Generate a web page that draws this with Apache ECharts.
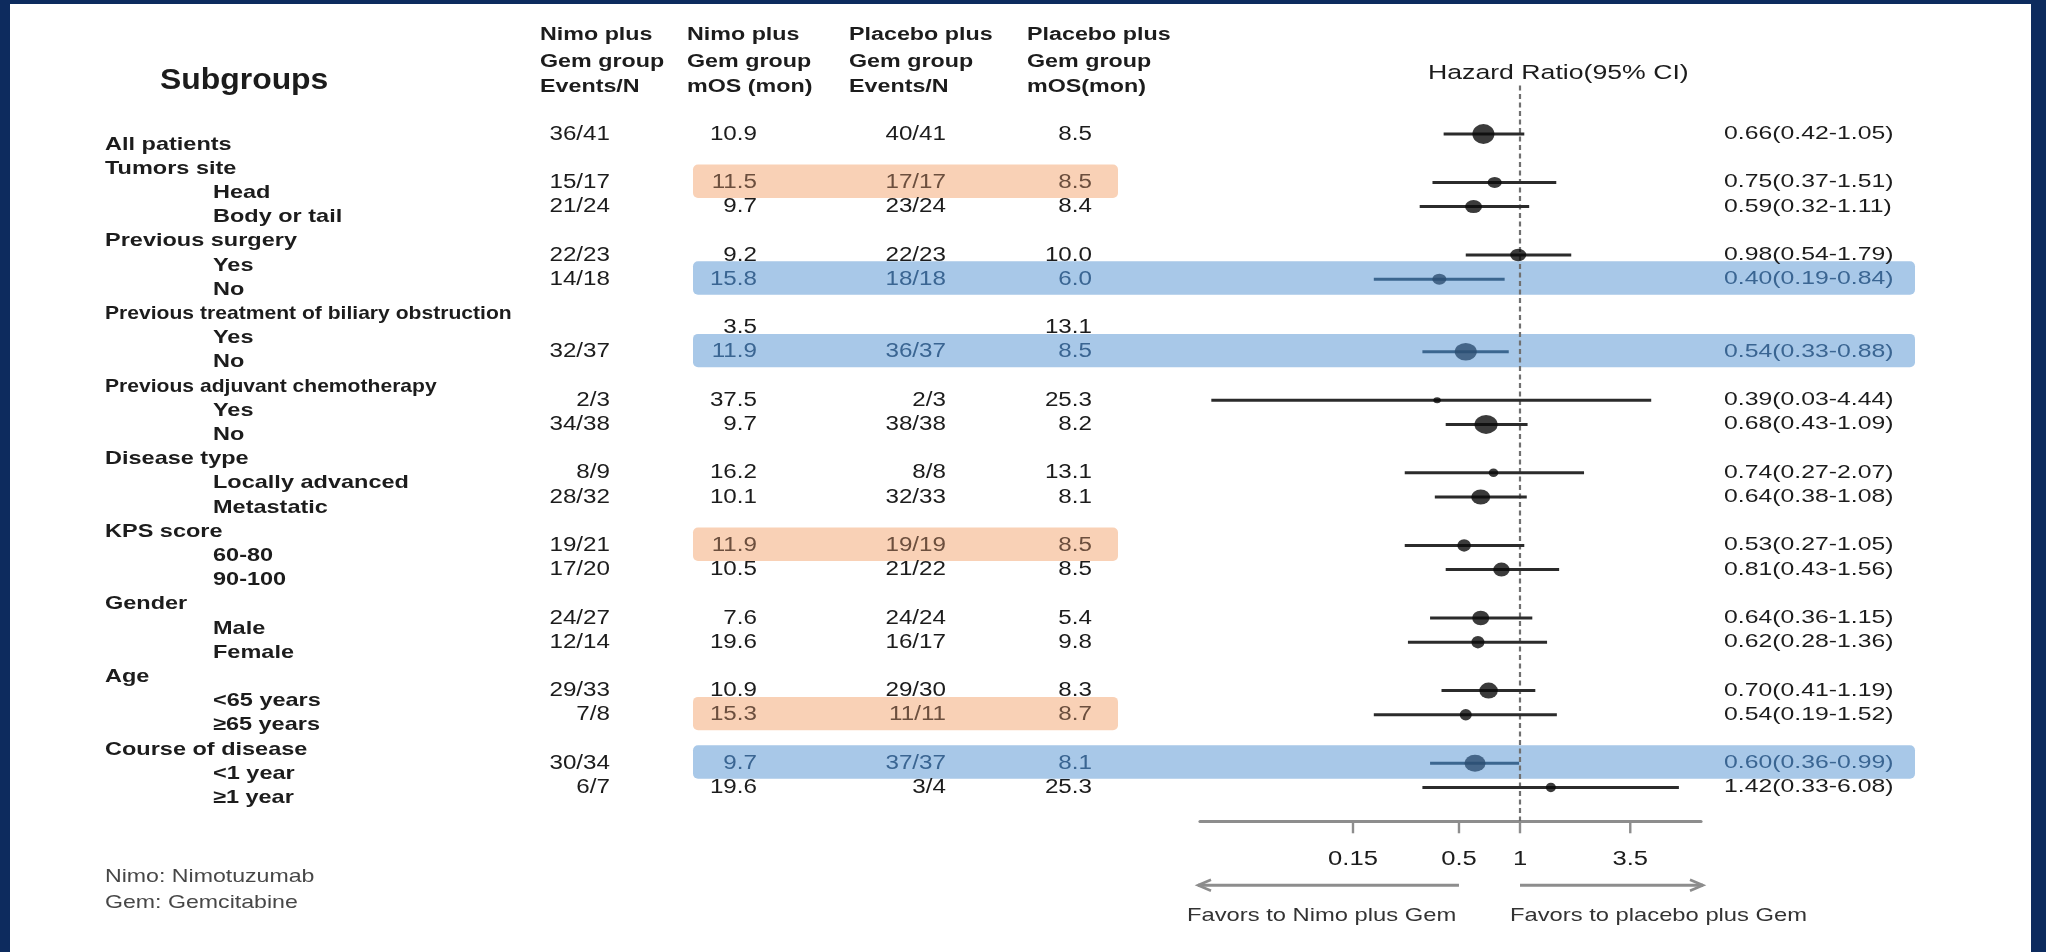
<!DOCTYPE html>
<html>
<head>
<meta charset="utf-8">
<script src="https://cdn.jsdelivr.net/npm/echarts@6/dist/echarts.min.js"></script>
<style>
html,body{margin:0;padding:0;background:#ffffff;}
#chart{width:2046px;height:952px;}
</style>
</head>
<body>
<div id="chart"></div>
<script>
// ================= DATA =================
const subgroups = [
  'All patients',
  'Tumors site', 'Head', 'Body or tail',
  'Previous surgery', 'Yes', 'No',
  'Previous treatment of biliary obstruction', 'Yes', 'No',
  'Previous adjuvant chemotherapy', 'Yes', 'No',
  'Disease type', 'Locally advanced', 'Metastatic',
  'KPS score', '60-80', '90-100',
  'Gender', 'Male', 'Female',
  'Age', '<65 years', '\u226565 years',
  'Course of disease', '<1 year', '\u22651 year'
];
const rowLevel = [0, 0,1,1, 0,1,1, 0,1,1, 0,1,1, 0,1,1, 0,1,1, 0,1,1, 0,1,1, 0,1,1];

const nimoEvents = ['36/41', null,'15/17','21/24', null,'22/23','14/18', null,null,'32/37', null,'2/3','34/38', null,'8/9','28/32', null,'19/21','17/20', null,'24/27','12/14', null,'29/33','7/8', null,'30/34','6/7'];
const nimoMOS    = ['10.9', null,'11.5','9.7', null,'9.2','15.8', null,'3.5','11.9', null,'37.5','9.7', null,'16.2','10.1', null,'11.9','10.5', null,'7.6','19.6', null,'10.9','15.3', null,'9.7','19.6'];
const placeboEvents = ['40/41', null,'17/17','23/24', null,'22/23','18/18', null,null,'36/37', null,'2/3','38/38', null,'8/8','32/33', null,'19/19','21/22', null,'24/24','16/17', null,'29/30','11/11', null,'37/37','3/4'];
const placeboMOS = ['8.5', null,'8.5','8.4', null,'10.0','6.0', null,'13.1','8.5', null,'25.3','8.2', null,'13.1','8.1', null,'8.5','8.5', null,'5.4','9.8', null,'8.3','8.7', null,'8.1','25.3'];

const hrPoint = [0.66, null,0.75,0.59, null,0.98,0.40, null,null,0.54, null,0.39,0.68, null,0.74,0.64, null,0.53,0.81, null,0.64,0.62, null,0.70,0.54, null,0.60,1.42];
const hrLower = [0.42, null,0.37,0.32, null,0.54,0.19, null,null,0.33, null,0.03,0.43, null,0.27,0.38, null,0.27,0.43, null,0.36,0.28, null,0.41,0.19, null,0.36,0.33];
const hrUpper = [1.05, null,1.51,1.11, null,1.79,0.84, null,null,0.88, null,4.44,1.09, null,2.07,1.08, null,1.05,1.56, null,1.15,1.36, null,1.19,1.52, null,0.99,6.08];

const highlightOrange = [2, 17, 24];
const highlightBlue = [6, 9, 26];

const tickValues = [0.15, 0.5, 1, 3.5];
const headerCols = [
  ['Nimo plus', 'Gem group', 'Events/N'],
  ['Nimo plus', 'Gem group', 'mOS (mon)'],
  ['Placebo plus', 'Gem group', 'Events/N'],
  ['Placebo plus', 'Gem group', 'mOS(mon)']
];
const notes = ['Nimo: Nimotuzumab', 'Gem: Gemcitabine'];
const favorTexts = ['Favors to Nimo plus Gem', 'Favors to placebo plus Gem'];

// ================= STYLE / LAYOUT =================
// marker sizes per row (style only)
const markerW = [22, 0,14,17, 0,16,14, 0,0,22, 0,7.5,23, 0,9.5,19, 0,13.5,16.5, 0,17,13, 0,18.5,12, 0,21,10];
const markerH = [20, 0,11,13, 0,12.5,11, 0,0,17.5, 0,6,19, 0,8.5,15, 0,12.5,14, 0,14.5,12.5, 0,16,11.5, 0,17,9.5];

const L = {
  W: 2046, H: 952,
  slotPx: 24.2, slot0: 134,
  tYMin: -5, tYMax: 33,
  fYMin: -2, fYMax: 28.4,
  labelX: [105, 213], labelDy: 10.5,
  colRight: [610, 757, 946, 1092],
  headerX: [540, 687, 849, 1027], headerY: [35, 61.7, 86.7],
  hrTextX: 1724,
  boxX0: 693, boxX1Orange: 1118, boxX1Blue: 1915, boxHalf: 0.69, boxShift: -0.05,
  forestLeft: 1200, forestRight: 1701,
  axisMin: 0.02638, axisMax: 7.816
};
const C = {
  navy: '#0d2b5e', text: '#1c1c1c', orangeBox: '#f9d1b6', blueBox: '#a8c8e8',
  orangeText: '#6c4f3e', blueText: '#3a6592', blueDot: '#2c4e71', blueLine: '#3b668f',
  ci: '#2b2b2b', axis: '#8d8d8d', dash: '#707070', note: '#474747'
};
const SANS = '"Liberation Sans", Arial, sans-serif';
// font size, horizontal stretch
const F = {
  label: [18.5, 1.27], labelLong: [18.5, 1.14], num: [20, 1.21], header: [17.5, 1.33],
  title: [29, 1.1], hr: [18.5, 1.34], hrTitle: [20.5, 1.3], tick: [20, 1.28], favor: [19, 1.25], note: [18.5, 1.25]
};

const orangeSet = new Set(highlightOrange), blueSet = new Set(highlightBlue);

const tTop = L.slot0 + L.tYMin * L.slotPx;
const tBottom = L.H - (L.slot0 + L.tYMax * L.slotPx);
const fTop = L.slot0 + L.fYMin * L.slotPx;
const fBottom = L.H - (L.slot0 + L.fYMax * L.slotPx);

// custom text column drawn through the table grid's axes
function textSeries(items, align, font, weight, dy) {
  return {
    type: 'custom', xAxisIndex: 0, yAxisIndex: 0, z: 5, silent: true,
    data: items.map(it => [it.x, it.row]),
    encode: { x: 0, y: 1 },
    renderItem(params, api) {
      const it = items[params.dataIndex];
      const p = api.coord([api.value(0), api.value(1)]);
      const f = it.font || font;
      return {
        type: 'text', x: p[0], y: p[1] + (dy || 0), scaleX: f[1], scaleY: 1,
        style: { text: it.text, x: 0, y: 0, align, verticalAlign: 'middle',
          font: (weight ? weight + ' ' : '') + f[0] + 'px ' + SANS, fill: it.color || C.text }
      };
    }
  };
}

function colItems(values, colIdx) {
  const out = [];
  values.forEach((v, i) => {
    if (v == null || v === '') return;
    let color = C.text;
    if (colIdx > 0 && orangeSet.has(i)) color = C.orangeText;
    if (colIdx > 0 && blueSet.has(i)) color = C.blueText;
    out.push({ x: L.colRight[colIdx], row: i, text: v, color });
  });
  return out;
}

const labelItems = subgroups.map((s, i) => ({
  x: L.labelX[rowLevel[i]], row: i, text: s, font: s.length > 28 ? F.labelLong : F.label
}));

const hrRows = [];
hrPoint.forEach((v, i) => { if (v != null) hrRows.push(i); });
const hrItems = hrRows.map(i => ({
  x: L.hrTextX, row: i,
  text: hrPoint[i].toFixed(2) + '(' + hrLower[i].toFixed(2) + '-' + hrUpper[i].toFixed(2) + ')',
  color: blueSet.has(i) ? C.blueText : C.text
}));

const boxData = [];
highlightOrange.forEach(i => boxData.push([i, L.boxX0, L.boxX1Orange, 0]));
highlightBlue.forEach(i => boxData.push([i, L.boxX0, L.boxX1Blue, 1]));

function gText(text, x, y, f, opts) {
  opts = opts || {};
  return { type: 'text', x, y, scaleX: f[1], z: 50,
    style: { text, x: 0, y: 0, verticalAlign: 'middle', align: opts.align || 'left',
      font: (opts.weight ? opts.weight + ' ' : '') + f[0] + 'px ' + SANS, fill: opts.color || C.text } };
}

const option = {
  backgroundColor: '#ffffff',
  animation: false,
  grid: [
    { left: 0, right: 0, top: tTop, bottom: tBottom, outerBoundsMode: 'none', containLabel: false },
    { left: L.forestLeft, right: L.W - L.forestRight, top: fTop, bottom: fBottom, outerBoundsMode: 'none', containLabel: false }
  ],
  xAxis: [
    { gridIndex: 0, type: 'value', min: 0, max: L.W, show: false },
    { gridIndex: 1, type: 'log', logBase: 10, min: L.axisMin, max: L.axisMax,
      axisLine: { show: true, onZero: false, lineStyle: { color: C.axis, width: 3.2 } },
      axisTick: { show: false }, axisLabel: { show: false }, splitLine: { show: false }, minorTick: { show: false } }
  ],
  yAxis: [
    { gridIndex: 0, type: 'value', min: L.tYMin, max: L.tYMax, inverse: true, show: false },
    { gridIndex: 1, type: 'value', min: L.fYMin, max: L.fYMax, inverse: true, show: false }
  ],
  graphic: [
    { type: 'rect', shape: { x: 0, y: 0, width: 10, height: L.H }, style: { fill: C.navy }, z: 100 },
    { type: 'rect', shape: { x: 0, y: 0, width: L.W, height: 4 }, style: { fill: C.navy }, z: 100 },
    { type: 'rect', shape: { x: L.W - 15, y: 0, width: 15, height: L.H }, style: { fill: C.navy }, z: 100 },
    gText('Subgroups', 160, 81, F.title, { weight: 'bold' }),
    ...headerCols.flatMap((col, ci) => col.map((t, li) => gText(t, L.headerX[ci], L.headerY[li], F.header, { weight: 'bold' }))),
    gText('Hazard Ratio(95% CI)', 1428, 73, F.hrTitle),
    ...notes.map((t, i) => gText(t, 105, 877 + i * 26, F.note, { color: C.note })),
    gText(favorTexts[0], 1187, 916, F.favor, { color: '#333' }),
    gText(favorTexts[1], 1510, 916, F.favor, { color: '#333' })
  ],
  series: [
    // highlight boxes
    {
      type: 'custom', xAxisIndex: 0, yAxisIndex: 0, z: 1, silent: true,
      data: boxData,
      renderItem(params, api) {
        const r = api.value(0) + L.boxShift;
        const p0 = api.coord([api.value(1), r - L.boxHalf]);
        const p1 = api.coord([api.value(2), r + L.boxHalf]);
        return { type: 'rect', shape: { x: p0[0], y: p0[1], width: p1[0] - p0[0], height: p1[1] - p0[1], r: 5 },
          style: { fill: api.value(3) === 1 ? C.blueBox : C.orangeBox } };
      }
    },
    textSeries(labelItems, 'left', F.label, 'bold', L.labelDy),
    textSeries(colItems(nimoEvents, 0), 'right', F.num),
    textSeries(colItems(nimoMOS, 1), 'right', F.num),
    textSeries(colItems(placeboEvents, 2), 'right', F.num),
    textSeries(colItems(placeboMOS, 3), 'right', F.num),
    textSeries(hrItems, 'left', F.hr),
    // CI lines
    {
      type: 'custom', xAxisIndex: 1, yAxisIndex: 1, z: 6, silent: true,
      data: hrRows.map(i => [hrLower[i], hrUpper[i], i, blueSet.has(i) ? 1 : 0]),
      encode: { x: [0, 1], y: 2 },
      renderItem(params, api) {
        const a = api.coord([api.value(0), api.value(2)]);
        const b = api.coord([api.value(1), api.value(2)]);
        return { type: 'line', shape: { x1: a[0], y1: a[1], x2: b[0], y2: b[1] },
          style: { stroke: api.value(3) === 1 ? C.blueLine : C.ci, lineWidth: 3 } };
      }
    },
    // point estimates
    {
      type: 'scatter', xAxisIndex: 1, yAxisIndex: 1, z: 7, silent: true,
      data: hrRows.map(i => ({
        value: [hrPoint[i], i],
        symbolSize: [markerW[i], markerH[i]],
        itemStyle: { color: blueSet.has(i) ? C.blueDot : '#0a0a0a' }
      })),
      symbol: 'circle',
      markLine: {
        silent: true, symbol: ['none', 'none'], label: { show: false },
        lineStyle: { type: [5, 3.5], color: C.dash, width: 2.2 },
        data: [{ xAxis: 1 }]
      }
    },
    // axis ticks + labels at custom HR values
    {
      type: 'custom', xAxisIndex: 1, yAxisIndex: 1, z: 6, silent: true,
      data: tickValues.map(v => [v, L.fYMax]),
      encode: { x: 0, y: 1 },
      renderItem(params, api) {
        const v = api.value(0);
        const p = api.coord([v, L.fYMax]);
        return { type: 'group', children: [
          { type: 'line', shape: { x1: p[0], y1: p[1], x2: p[0], y2: p[1] + 12 }, style: { stroke: C.axis, lineWidth: 2.4 } },
          { type: 'text', x: p[0], y: p[1] + 38, scaleX: F.tick[1],
            style: { text: String(v), x: 0, y: 0, align: 'center', verticalAlign: 'middle',
              font: F.tick[0] + 'px ' + SANS, fill: C.text } }
        ] };
      }
    },
    // favour arrows
    {
      type: 'custom', xAxisIndex: 1, yAxisIndex: 1, z: 6, silent: true,
      data: [[0.5, L.axisMin], [1, L.axisMax]],
      encode: { x: [0, 1] },
      renderItem(params, api) {
        const a = api.coord([api.value(0), L.fYMax]);
        const b = api.coord([api.value(1), L.fYMax]);
        const y = a[1] + 64;
        const dir = b[0] > a[0] ? 1 : -1;
        const tip = b[0] + dir * 2;
        return { type: 'group', children: [
          { type: 'line', shape: { x1: a[0], y1: y, x2: tip, y2: y }, style: { stroke: C.axis, lineWidth: 3 } },
          { type: 'polyline', shape: { points: [[tip - dir * 13, y - 5.5], [tip, y], [tip - dir * 13, y + 5.5]] },
            style: { stroke: C.axis, lineWidth: 2.6, fill: null } }
        ] };
      }
    }
  ]
};

const chart = echarts.init(document.getElementById('chart'), null, { renderer: 'canvas' });
chart.setOption(option);
</script>
</body>
</html>
